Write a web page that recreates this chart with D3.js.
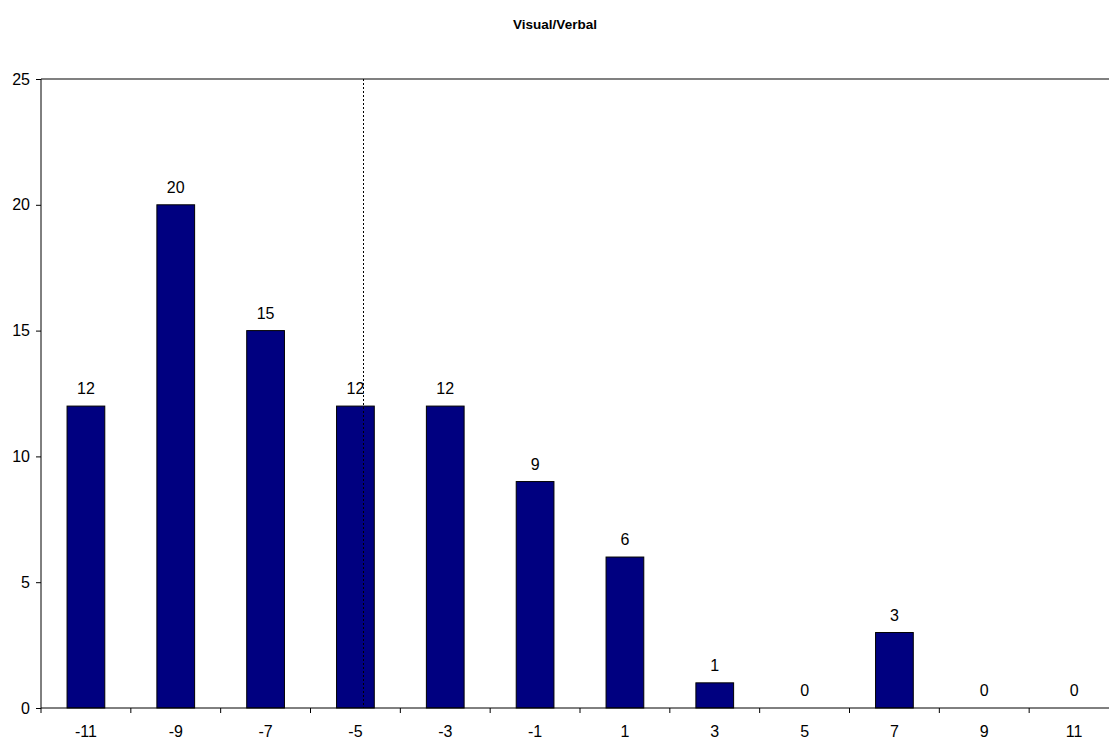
<!DOCTYPE html>
<html>
<head>
<meta charset="utf-8">
<script src="https://cdn.jsdelivr.net/npm/d3@7"></script>
<style>
  body { margin: 0; background: #fff; }
  svg { display: block; font-family: Arial, "Liberation Sans", sans-serif; }
</style>
</head>
<body>
<svg id="chart" width="1109" height="741"></svg>
<script>
// Chart data
const categories = ['-11', '-9', '-7', '-5', '-3', '-1', '1', '3', '5', '7', '9', '11']
const counts = [12, 20, 15, 12, 12, 9, 6, 1, 0, 3, 0, 0]
const yTicks = [0, 5, 10, 15, 20, 25]
const meanValue = -4.82
const title = 'Visual/Verbal'

// Plot area (extends slightly past the window on the right, as in the reference)
const margin = { top: 79, left: 41 }
const width = 1078
const height = 629
const fontSize = 16

const svg = d3.select('#chart')

svg.append('text')
    .attr('x', 555)
    .attr('y', 29)
    .attr('text-anchor', 'middle')
    .attr('font-size', 13.5)
    .attr('font-weight', 'bold')
    .text(title)

const g = svg.append('g')
    .attr('transform', 'translate(' + margin.left + ',' + margin.top + ')')

const x = d3.scaleBand()
    .domain(categories)
    .range([0, width])

const y = d3.scaleLinear()
    .domain([0, 25])
    .range([height, 0])

// numeric scale for the dotted marker line
const xNum = d3.scaleLinear()
    .domain([-12, 12])
    .range([0, width])

// top border
g.append('line')
    .attr('x1', 0).attr('x2', width)
    .attr('y1', 0).attr('y2', 0)
    .attr('stroke', '#808080')
    .attr('stroke-width', 2)

// Bars
g.selectAll('rect.bar')
    .data(counts)
  .enter()
  .append('rect')
    .attr('class', 'bar')
    .attr('x', (d, i) => x(categories[i]) + x.bandwidth() * 0.29)
    .attr('y', d => y(d))
    .attr('width', x.bandwidth() * 0.42)
    .attr('height', d => height - y(d))
    .attr('fill', '#000080')
    .attr('stroke', '#000')
    .attr('stroke-width', 1)

// Value labels
g.selectAll('text.val')
    .data(counts)
  .enter()
  .append('text')
    .attr('class', 'val')
    .attr('x', (d, i) => x(categories[i]) + x.bandwidth() / 2)
    .attr('y', d => y(d) - 12)
    .attr('text-anchor', 'middle')
    .attr('font-size', fontSize)
    .text(d => d)

// Dotted marker line
g.append('line')
    .attr('x1', xNum(meanValue)).attr('x2', xNum(meanValue))
    .attr('y1', 0).attr('y2', height)
    .attr('stroke', '#000')
    .attr('stroke-width', 1)
    .attr('stroke-dasharray', '2,2')

// Y axis
const yAxis = d3.axisLeft(y)
    .tickValues(yTicks)
    .tickSize(5)
    .tickPadding(6)

g.append('g')
    .attr('class', 'y-axis')
    .call(yAxis)
    .call(a => a.select('.domain').attr('d', 'M0,0V' + height))
    .call(a => a.selectAll('text').attr('font-size', fontSize).attr('fill', '#000').attr('font-family', 'Arial, "Liberation Sans", sans-serif'))

// X axis: ticks sit between categories
const xAxisG = g.append('g')
    .attr('class', 'x-axis')
    .attr('transform', 'translate(0,' + height + ')')

xAxisG.append('line')
    .attr('x1', 0).attr('x2', width)
    .attr('stroke', '#000')

xAxisG.selectAll('line.tick')
    .data(d3.range(categories.length + 1))
  .enter()
  .append('line')
    .attr('class', 'tick')
    .attr('x1', i => i * x.step()).attr('x2', i => i * x.step())
    .attr('y1', 0).attr('y2', 5)
    .attr('stroke', '#000')

xAxisG.selectAll('text')
    .data(categories)
  .enter()
  .append('text')
    .attr('x', d => x(d) + x.bandwidth() / 2)
    .attr('y', 29)
    .attr('text-anchor', 'middle')
    .attr('font-size', fontSize)
    .text(d => d)
</script>
</body>
</html>
